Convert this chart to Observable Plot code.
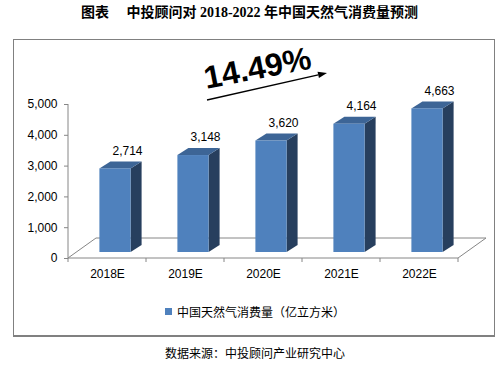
<!DOCTYPE html>
<html><head><meta charset="utf-8">
<script src="https://cdn.jsdelivr.net/npm/d3@7"></script>
<script src="https://cdn.jsdelivr.net/npm/@observablehq/plot@0.6"></script>
<style>
body{margin:0;background:#fff;}
#wrap{position:relative;width:499px;height:365px;overflow:hidden;font-family:"Liberation Sans","Noto Sans CJK SC",sans-serif;color:#000;}
#title{position:absolute;left:0;top:4px;width:499px;text-align:center;font-weight:bold;font-size:14px;line-height:18px;font-family:"Liberation Serif","Noto Sans CJK SC",serif;white-space:pre;}
#box{position:absolute;left:13px;top:39px;width:480px;height:295px;border:1px solid #808080;border-bottom-width:2px;}
#chart{position:absolute;left:0;top:40px;}
#legend{position:absolute;top:303px;left:0;width:499px;font-size:12px;line-height:18px;font-family:"Noto Sans CJK SC",sans-serif;}
#legend .sw{position:absolute;left:165px;top:5px;width:7px;height:7px;}
#legend .lb{position:absolute;left:177px;top:0;white-space:nowrap;}
#source{position:absolute;top:344px;left:165px;font-size:12px;line-height:18px;font-family:"Noto Sans CJK SC",sans-serif;white-space:nowrap;}
</style></head>
<body>
<div id="wrap">
  <div id="title"></div>
  <div id="box"></div>
  <div id="chart"></div>
  <div id="legend"><span class="sw"></span><span class="lb"></span></div>
  <div id="source"></div>
</div>
<script>
// ---- data ----
const titleText = "图表　 中投顾问对 2018-2022 年中国天然气消费量预测";
const years = ["2018E", "2019E", "2020E", "2021E", "2022E"];
const consumption = [2714, 3148, 3620, 4164, 4663];
const yTicks = [0, 1000, 2000, 3000, 4000, 5000];
const seriesName = "中国天然气消费量（亿立方米）";
const cagrLabel = "14.49%";
const sourceText = "数据来源：中投顾问产业研究中心";

// ---- styles ----
const frontColor = "#4f81bd";
const topColor = "#3d6596";
const sideColor = "#273f5e";
const axisGray = "#868686";

const data = years.map((year, i) => ({year, value: consumption[i]}));

document.getElementById("title").textContent = titleText;
document.querySelector("#legend .sw").style.background = frontColor;
document.querySelector("#legend .lb").textContent = seriesName;
document.getElementById("source").textContent = sourceText;

// custom render mark: 3D floor, axis lines, 3D bars, trend arrow
function bars3d(index, scales, values, dimensions) {
  const x = scales.x, y = scales.y;
  const bw = x.bandwidth ? x.bandwidth() : 78;
  const left = dimensions.marginLeft;
  const right = dimensions.width - dimensions.marginRight;
  const top = dimensions.marginTop;
  const y0 = y(0);
  const floorDx = 28, floorDy = 20;
  const barW = bw * 0.4;
  const shiftX = 8, shiftY = 6;  // front plane of bars
  const depthX = 11, depthY = 7; // bar depth
  const g = d3.create("svg:g");

  // floor outline
  g.append("path")
    .attr("d", `M${left},${y0}L${left + floorDx},${y0 - floorDy}L${right + floorDx},${y0 - floorDy}L${right},${y0}`)
    .attr("fill", "none").attr("stroke", axisGray).attr("stroke-width", 1);
  // axis lines
  g.append("path")
    .attr("d", `M${left},${y(d3.max(yTicks))}L${left},${y0}L${right},${y0}`)
    .attr("fill", "none").attr("stroke", axisGray).attr("stroke-width", 1);
  // x category boundary ticks
  const bounds = years.map(d => x(d)).concat([x(years[years.length - 1]) + bw]);
  g.append("path")
    .attr("d", bounds.map(b => `M${b},${y0}L${b},${y0 + 4}`).join(""))
    .attr("stroke", axisGray).attr("stroke-width", 1);

  // bars
  data.forEach(d => {
    const xl = x(d.year) + (bw - barW) / 2 + shiftX;
    const xr = xl + barW;
    const yt = y(d.value) - shiftY;
    const yb = y0 - shiftY;
    g.append("path")
      .attr("d", `M${xr},${yt}L${xr + depthX},${yt - depthY}L${xr + depthX},${yb - depthY}L${xr},${yb}Z`)
      .attr("fill", sideColor);
    g.append("path")
      .attr("d", `M${xl},${yt}L${xl + depthX},${yt - depthY}L${xr + depthX},${yt - depthY}L${xr},${yt}Z`)
      .attr("fill", topColor);
    g.append("rect")
      .attr("x", xl).attr("y", yt).attr("width", barW).attr("height", yb - yt)
      .attr("fill", frontColor);
  });

  // trend arrow
  const cx = (left + right) / 2;
  const x1 = cx - 56, y1 = top - 4, x2 = cx + 64, y2 = top - 31;
  const ang = Math.atan2(y2 - y1, x2 - x1);
  const hl = 9, hw = 3.2;
  const bx = x2 - hl * Math.cos(ang), by = y2 - hl * Math.sin(ang);
  g.append("line")
    .attr("x1", x1).attr("y1", y1).attr("x2", bx).attr("y2", by)
    .attr("stroke", "#000").attr("stroke-width", 1.3);
  g.append("path")
    .attr("d", `M${x2},${y2}L${bx - hw * Math.sin(ang)},${by + hw * Math.cos(ang)}L${bx + hw * Math.sin(ang)},${by - hw * Math.cos(ang)}Z`)
    .attr("fill", "#000");
  return g.node();
}

const chart = Plot.plot({
  width: 499,
  height: 250,
  marginLeft: 68,
  marginRight: 41,
  marginTop: 64,
  marginBottom: 32,
  style: {fontFamily: "'Liberation Sans', Arial, sans-serif", fontSize: "12px", color: "#000", background: "transparent", overflow: "visible"},
  x: {type: "band", domain: years, padding: 0, label: null},
  y: {domain: [0, 5000], label: null},
  marks: [
    bars3d,
    Plot.axisY({ticks: yTicks, tickFormat: d3.format(","), tickSize: 4, tickPadding: 7, label: null, stroke: axisGray, fill: "#000", fontSize: 12}),
    Plot.axisX({tickSize: 0, tickPadding: 11, label: null, fill: "#000", fontSize: 12}),
    Plot.text(data, {x: "year", y: "value", text: d => d3.format(",")(d.value), dx: 20, dy: -24, fill: "#000", fontSize: 12}),
    Plot.text([cagrLabel], {text: d => d, frameAnchor: "top", lineAnchor: "middle", dx: -6, dy: -36, rotate: -11, fontSize: 32, fontWeight: "bold", fill: "#000"})
  ]
});
document.getElementById("chart").appendChild(chart);
</script>
</body></html>
